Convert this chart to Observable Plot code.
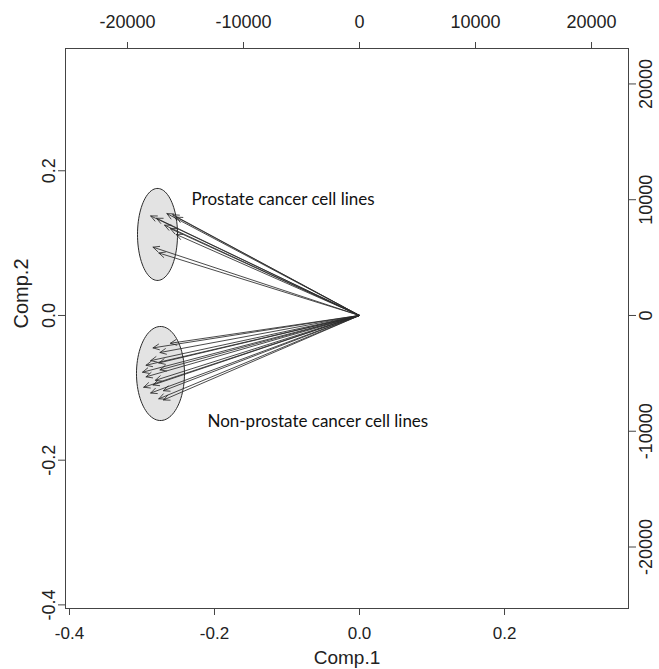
<!DOCTYPE html>
<html>
<head>
<meta charset="utf-8">
<script src="https://cdn.jsdelivr.net/npm/d3@7"></script>
<script src="https://cdn.jsdelivr.net/npm/@observablehq/plot@0.6"></script>
<style>
  html, body { margin: 0; padding: 0; background: #fff; }
  #chart svg { display: block; }
</style>
</head>
<body>
<div id="chart"></div>
<script>
// Primary axis ticks (scores)
const primaryTicks = [-0.4, -0.2, 0.0, 0.2];
// Secondary axis ticks (loadings)
const secondaryTicks = [-20000, -10000, 0, 10000, 20000];
// loadings -> primary units
const k = 1.6e-5;

// Arrow tips (loadings, secondary units)
const prostateX = [-18000, -17500, -16600, -16100, -15800, -16800, -16300, -15800, -17800, -17300];
const prostateY = [8600, 8400, 8800, 8700, 8500, 7800, 7500, 7000, 5900, 5400];
const nonProstateX = [-16300, -17800, -17200, -18000, -18400, -17300, -18700, -17200, -18400, -17600, -17800, -18600, -16900, -18000, -17300, -16900];
const nonProstateY = [-2400, -2800, -3200, -3900, -4300, -4100, -4900, -4700, -5300, -5600, -6000, -6200, -6500, -6700, -7200, -7300];

// Group ellipses (primary units): center x, center y, radius x, radius y
const groupNames = ["Prostate cancer cell lines", "Non-prostate cancer cell lines"];
const ellipseCX = [-0.2786, -0.2745];
const ellipseCY = [0.112, -0.0802];
const ellipseRX = [0.0276, 0.0331];
const ellipseRY = [0.0636, 0.065];

// Label anchors (primary units)
const labelX = [-0.2317, -0.2097];
const labelY = [0.160, -0.1466];

const arrows = [
  ...prostateX.map((x, i) => ({x1: 0, y1: 0, x2: x * k, y2: prostateY[i] * k})),
  ...nonProstateX.map((x, i) => ({x1: 0, y1: 0, x2: x * k, y2: nonProstateY[i] * k}))
];

const ellipsePts = [];
groupNames.forEach((g, j) => {
  const n = 90;
  for (let t = 0; t <= n; t++) {
    const a = (t / n) * 2 * Math.PI;
    ellipsePts.push({g, x: ellipseCX[j] + ellipseRX[j] * Math.cos(a), y: ellipseCY[j] + ellipseRY[j] * Math.sin(a)});
  }
});

const labels = groupNames.map((g, i) => ({text: g, x: labelX[i], y: labelY[i]}));

const axisFont = "Liberation Sans, Arial, sans-serif";
const fmtSec = d => String(Math.round(d / k / 10000) * 10000);

const chart = Plot.plot({
  width: 659,
  height: 669,
  marginLeft: 65,
  marginRight: 31,
  marginTop: 48,
  marginBottom: 61,
  style: {fontFamily: axisFont, fontSize: "18px", color: "#222", background: "#fff"},
  x: {domain: [-0.4055, 0.371], axis: null},
  y: {domain: [-0.405, 0.369], axis: null},
  marks: [
    Plot.line(ellipsePts, {x: "x", y: "y", z: "g", fill: "#e3e3e3", stroke: "#2a2a2a", strokeWidth: 1}),
    Plot.arrow(arrows, {x1: "x1", y1: "y1", x2: "x2", y2: "y2", stroke: "#2b2b2b", strokeWidth: 1, strokeOpacity: 0.85, headLength: 10, headAngle: 50}),
    Plot.text(labels, {x: "x", y: "y", text: "text", textAnchor: "start", fontFamily: "Lato, sans-serif", fontSize: 17, fill: "#111"}),
    Plot.frame({stroke: "#444"}),
    Plot.axisX(primaryTicks, {anchor: "bottom", tickSize: 7, tickPadding: 11, tickFormat: d => d.toFixed(1), fontSize: 17, stroke: "#444", label: null}),
    Plot.axisY(primaryTicks, {anchor: "left", tickSize: 7, tickPadding: 4, tickRotate: -90, tickFormat: d => d.toFixed(1), fontSize: 18, stroke: "#444", label: null}),
    Plot.axisX(secondaryTicks.map(v => v * k), {anchor: "top", tickSize: 7, tickPadding: 14, tickFormat: fmtSec, fontSize: 18, stroke: "#444", label: null}),
    Plot.axisY(secondaryTicks.map(v => v * k), {anchor: "right", tickSize: 7, tickPadding: 16, tickRotate: -90, tickFormat: fmtSec, fontSize: 18, stroke: "#444", label: null}),
    Plot.text(["Comp.1"], {frameAnchor: "bottom", dy: 55, fontSize: 19, fill: "#222"}),
    Plot.text(["Comp.2"], {frameAnchor: "left", dx: -44, rotate: -90, fontSize: 20, fill: "#222"})
  ]
});

document.getElementById("chart").appendChild(chart);
</script>
</body>
</html>
